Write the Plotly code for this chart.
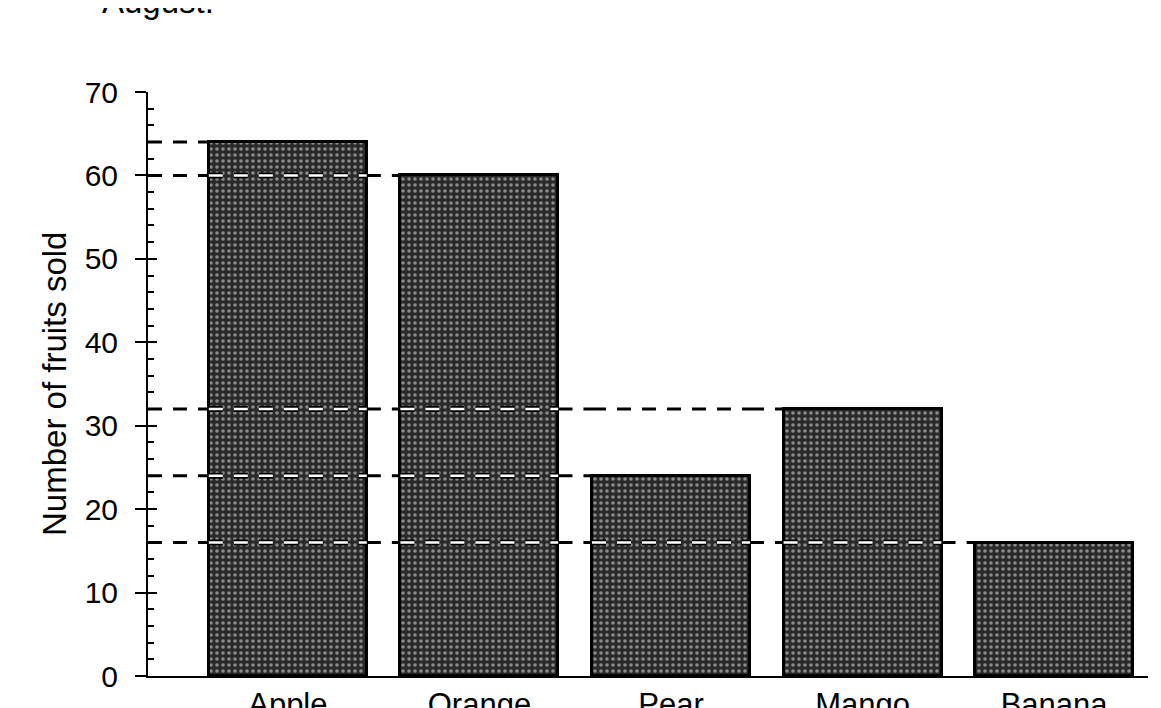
import plotly.graph_objects as go

# ---- data ----
categories = ["Apple", "Orange", "Pear", "Mango", "Banana"]
fruits_sold = [64, 60, 24, 32, 16]
y_ticks = [0, 10, 20, 30, 40, 50, 60, 70]
title_text = "August."
y_title = "Number of fruits sold"

# ---- layout constants (page body has an 8px margin) ----
OFF = 8
W, H = 1153, 700
ML, MR, MT, MB = 140, 13, 84, 32
PW, PH = W - ML - MR, H - MT - MB
BAR_W = 0.825
X_RANGE = [-0.73, 4.49]
Y_RANGE = [0, 70]
FONT = "Liberation Sans, Arial, sans-serif"

xs = list(range(len(categories)))

fig = go.Figure()

fig.add_trace(go.Bar(
    x=xs, y=fruits_sold, width=BAR_W,
    marker=dict(
        color="#2a2a2a",
        line=dict(color="black", width=3),
        pattern=dict(shape=".", fgcolor="#eeeeee", bgcolor="#2a2a2a",
                     size=6, solidity=0.28),
    ),
    showlegend=False, hoverinfo="skip",
))

# dashed reference lines from the y axis to the left edge of each bar
DASH = "14px,11px"
for i, v in enumerate(fruits_sold):
    segs = []
    cur = X_RANGE[0]
    for j in range(i):
        left, right = j - BAR_W / 2, j + BAR_W / 2
        segs.append(("out", cur, left))
        segs.append(("in" if fruits_sold[j] > v else "out", left, right))
        cur = right
    segs.append(("out", cur, i - BAR_W / 2))
    for kind, a, b in segs:
        if b <= a:
            continue
        if kind == "out":
            fig.add_trace(go.Scatter(
                x=[a, b], y=[v, v], mode="lines",
                line=dict(color="black", width=3, dash=DASH),
                showlegend=False, hoverinfo="skip"))
        else:
            fig.add_trace(go.Scatter(
                x=[a, b], y=[v, v], mode="lines",
                line=dict(color="black", width=6, dash=DASH),
                showlegend=False, hoverinfo="skip"))
            fig.add_trace(go.Scatter(
                x=[a, b], y=[v, v], mode="lines",
                line=dict(color="white", width=2.5, dash=DASH),
                showlegend=False, hoverinfo="skip"))

# invisible trace on the overlay axis so that inside ticks are drawn
fig.add_trace(go.Scatter(x=[xs[0]], y=[fruits_sold[0]], yaxis="y2",
                         mode="markers", marker=dict(opacity=0),
                         showlegend=False, hoverinfo="skip"))

fig.update_layout(
    width=W, height=H,
    margin=dict(l=ML, r=MR, t=MT, b=MB, autoexpand=False),
    paper_bgcolor="white", plot_bgcolor="white",
    font=dict(family=FONT, color="black"),
    bargap=0,
    xaxis=dict(
        range=X_RANGE, tickvals=xs, ticktext=categories,
        showgrid=False, zeroline=False, showline=True, automargin=False,
        linecolor="black", linewidth=2, ticks="",
        tickfont=dict(size=31, color="black"),
        ticklabelstandoff=0,
    ),
    yaxis=dict(
        range=Y_RANGE, tickvals=y_ticks, showgrid=False, zeroline=False,
        showline=True, linecolor="black", linewidth=2, automargin=False,
        ticks="outside", ticklen=11, tickwidth=2, tickcolor="black",
        tickfont=dict(size=30, color="black"),
        ticklabelstandoff=11,
    ),
    yaxis2=dict(
        range=Y_RANGE, overlaying="y", side="left", anchor="x",
        tickvals=y_ticks, showticklabels=False, showgrid=False,
        zeroline=False, showline=False, automargin=False,
        ticks="inside", ticklen=9, tickwidth=2, tickcolor="black",
        minor=dict(dtick=2, ticks="inside", ticklen=6, tickwidth=1.5,
                   tickcolor="black", showgrid=False),
    ),
    annotations=[
        dict(text=title_text, xref="paper", yref="paper",
             x=(100 - OFF - ML) / PW, y=(H - MB - (22 - OFF)) / PH,
             xanchor="left", yanchor="bottom", showarrow=False,
             font=dict(size=33, family=FONT, color="black")),
        dict(text=y_title, xref="paper", yref="paper",
             x=(54 - OFF - ML) / PW, y=0.5, textangle=-90,
             xanchor="center", yanchor="middle", showarrow=False,
             font=dict(size=33, family=FONT, color="black")),
    ],
)

fig.write_html("out.html")
